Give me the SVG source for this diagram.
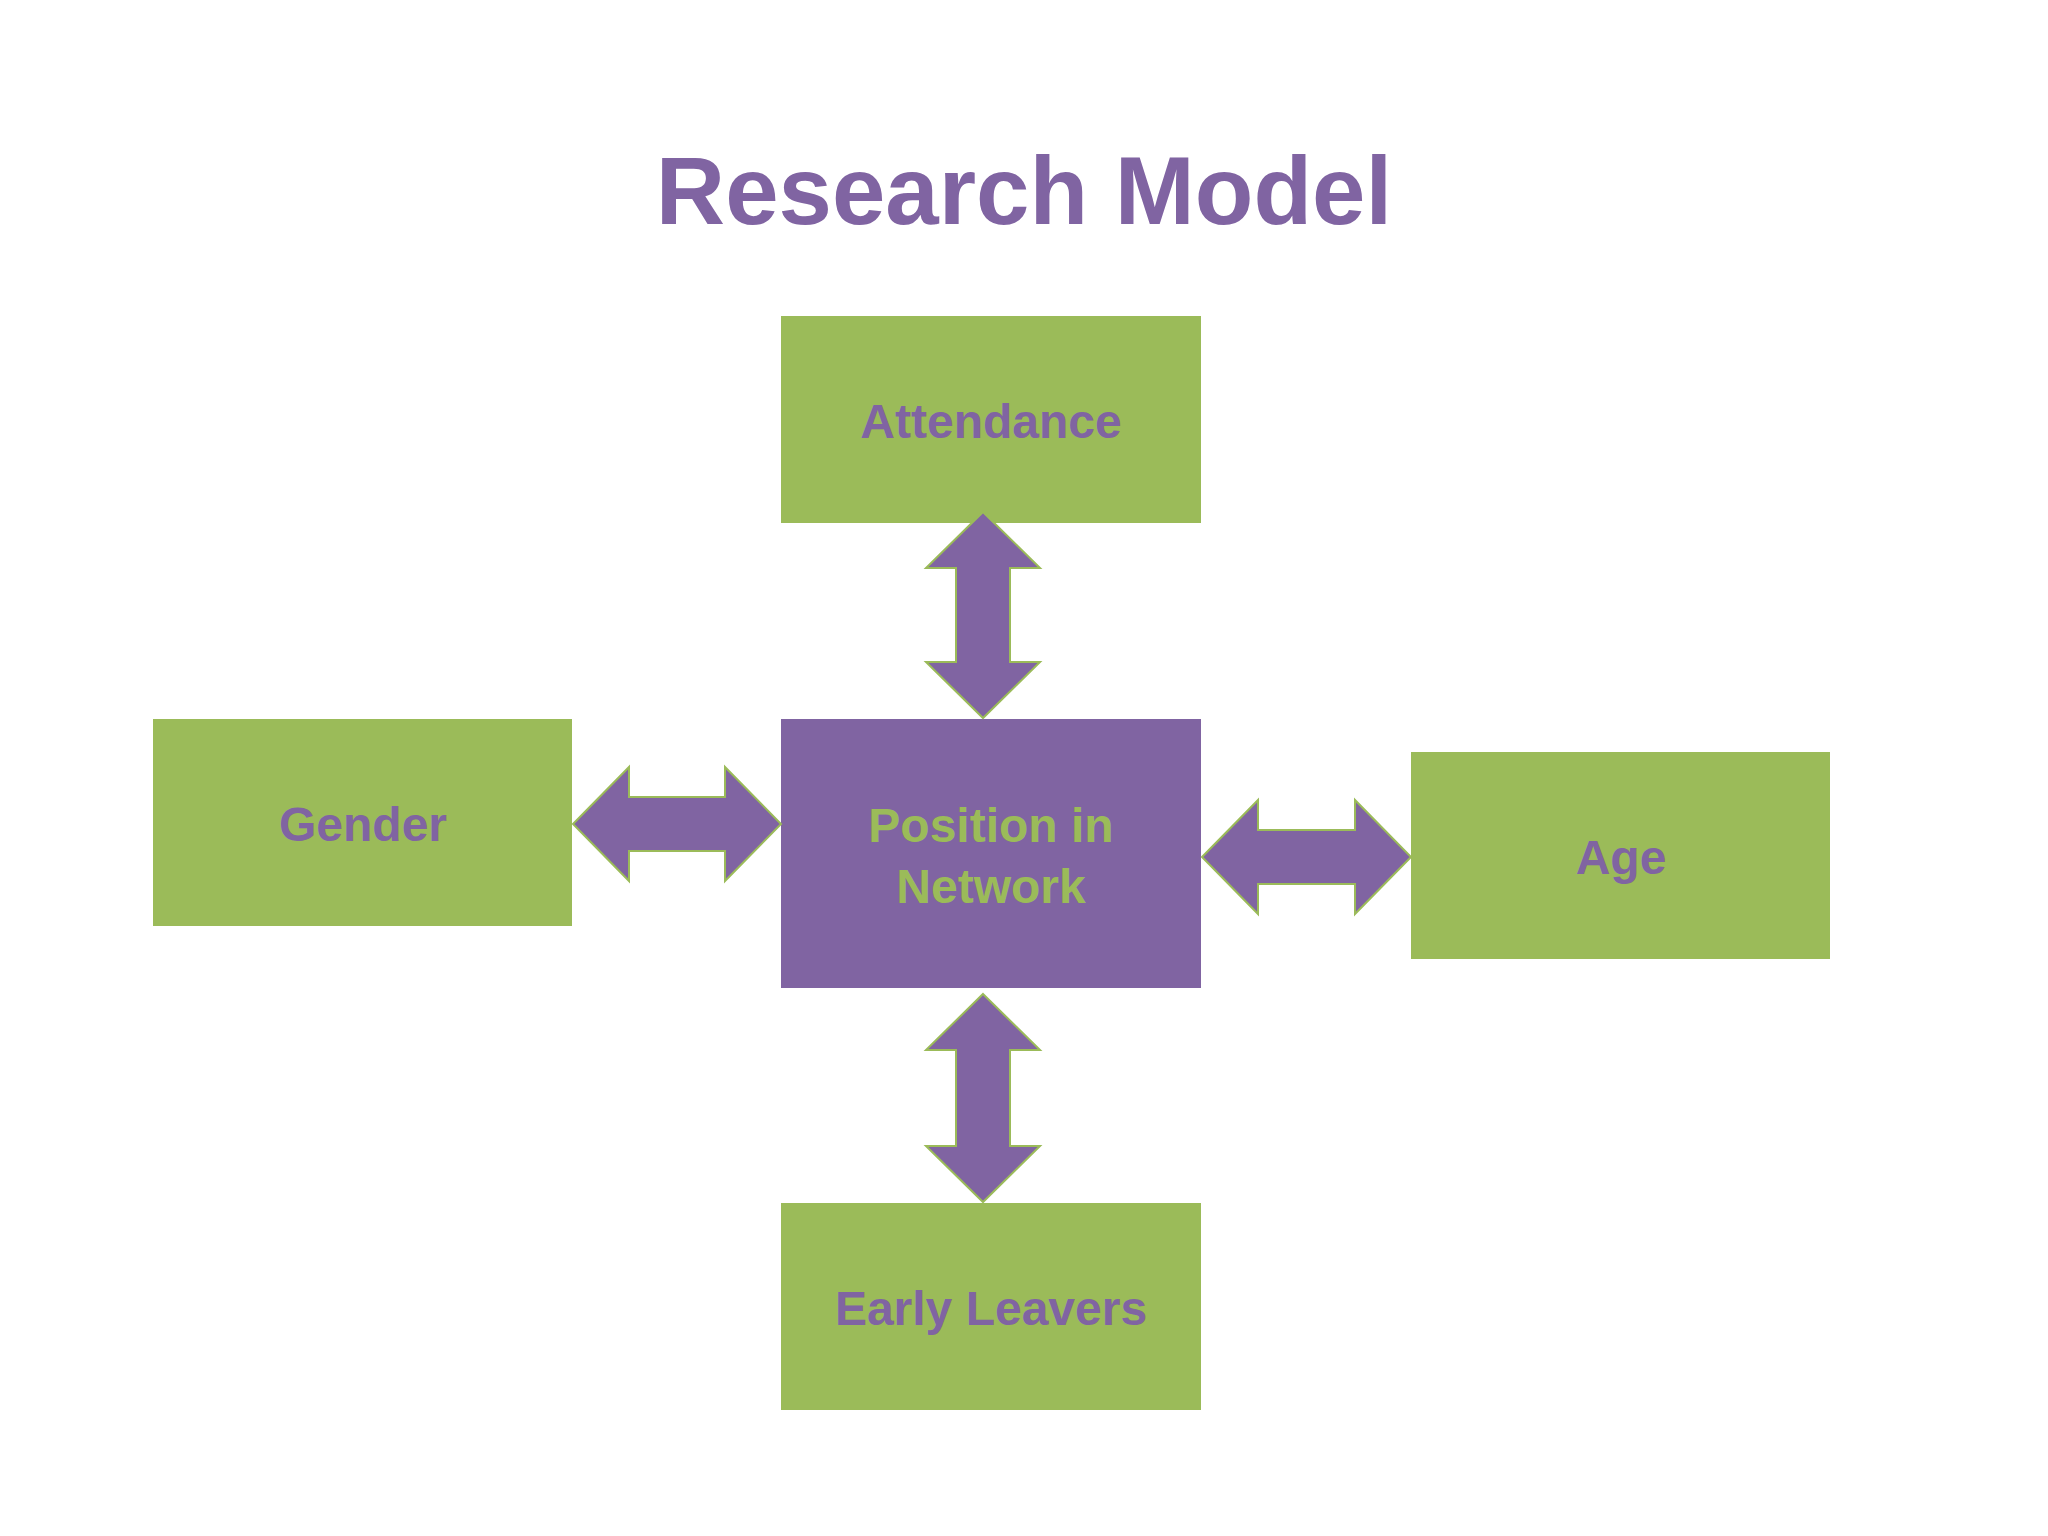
<svg xmlns="http://www.w3.org/2000/svg" width="2048" height="1536" viewBox="0 0 2048 1536">
<style>
.g{fill:#9BBB59}
.p{fill:#8064A2}
.t{font-family:"Liberation Sans",Arial,sans-serif;font-weight:bold;font-size:48px;text-anchor:middle}
.a{fill:#8064A2;stroke:#9BBB59;stroke-width:2}
</style>
<rect width="2048" height="1536" fill="#fff"/>
<text x="1024" y="224" class="t" style="font-size:96px" fill="#8064A2">Research Model</text>
<g id="attendance"><rect x="781" y="316" width="420" height="207" class="g"/><text x="991" y="438" class="t" fill="#8064A2">Attendance</text></g>
<g id="gender"><rect x="153" y="719" width="419" height="207" class="g"/><text x="363" y="841" class="t" fill="#8064A2">Gender</text></g>
<g id="center"><rect x="781" y="719" width="420" height="269" class="p"/><text x="991" y="842" class="t" fill="#9BBB59">Position in</text><text x="991" y="903" class="t" fill="#9BBB59">Network</text></g>
<g id="age"><rect x="1411" y="752" width="419" height="207" class="g"/><text x="1621" y="874" class="t" fill="#8064A2">Age</text></g>
<g id="early"><rect x="781" y="1203" width="420" height="207" class="g"/><text x="991" y="1325" class="t" fill="#8064A2">Early Leavers</text></g>
<g id="connectors">
<polygon class="a" points="983,512 1040,568 1010,568 1010,662 1040,662 983,718 926,662 956,662 956,568 926,568"/>
<polygon class="a" points="983,994 1040,1050 1010,1050 1010,1146 1040,1146 983,1202 926,1146 956,1146 956,1050 926,1050"/>
<polygon class="a" points="573,824 629,767 629,797 725,797 725,767 781,824 725,881 725,851 629,851 629,881"/>
<polygon class="a" points="1202,857 1258,800 1258,830 1355,830 1355,800 1411,857 1355,914 1355,884 1258,884 1258,914"/>
</g>
</svg>
